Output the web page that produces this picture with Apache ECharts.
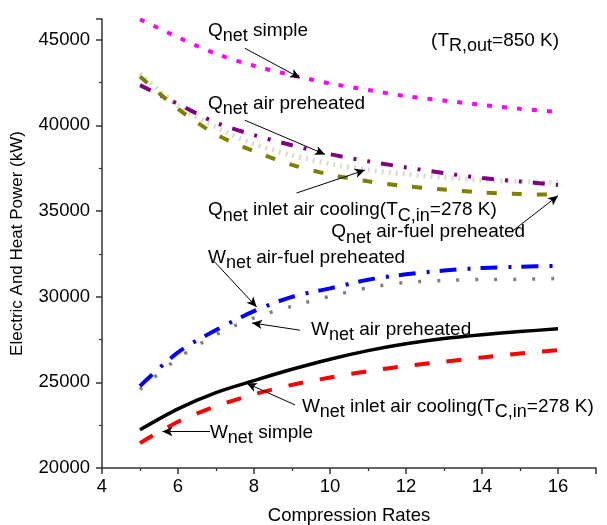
<!DOCTYPE html>
<html><head><meta charset="utf-8">
<script src="https://cdn.jsdelivr.net/npm/echarts@6/dist/echarts.min.js"></script>
<style>html,body{margin:0;padding:0;background:#fff}#c{width:607px;height:525px}</style>
</head><body><div id="c"></div>
<script>
const rates = [5, 6, 7, 8, 9, 10, 11, 12, 13, 14, 15, 16];
const qSimple   = [46180, 45130, 44170, 43470, 42920, 42440, 42060, 41700, 41440, 41190, 40960, 40780];
const qAir      = [42340, 41240, 40150, 39430, 38830, 38310, 37900, 37540, 37210, 36920, 36720, 36520];
const qInlet    = [43020, 41150, 39900, 38900, 38250, 37750, 37400, 37150, 36950, 36800, 36720, 36650];
const qAirFuel  = [42850, 40960, 39470, 38490, 37690, 37120, 36730, 36440, 36250, 36075, 35985, 35950];
const wAirFuel  = [24780, 26750, 28050, 29150, 29990, 30480, 30980, 31300, 31520, 31670, 31740, 31800];
const wAir      = [24590, 26400, 27780, 28760, 29440, 30020, 30520, 30830, 30940, 31000, 31010, 31060];
const wInlet    = [22230, 23450, 24400, 25100, 25760, 26350, 26850, 27250, 27560, 27780, 27960, 28120];
const wSimple   = [21450, 22700, 23600, 24300, 24850, 25280, 25650, 25950, 26200, 26450, 26680, 26880];

const xTicks = [4, 6, 8, 10, 12, 14, 16];
const yTicks = [20000, 25000, 30000, 35000, 40000, 45000];

// annotation texts (rich), anchored in data coordinates
const labels = [
  {text: '{m|Q}{s|net}{m| simple}', at: [6.79, 45483]},
  {text: '{m|(T}{s|R,out}{m|=850 K)}', at: [12.66, 44902]},
  {text: '{m|Q}{s|net}{m| air preheated}', at: [6.79, 41239]},
  {text: '{m|Q}{s|net}{m| inlet air cooling(T}{s|C,in}{m|=278 K)}', at: [6.79, 35018]},
  {text: '{m|Q}{s|net}{m| air-fuel preheated}', at: [10.03, 33739]},
  {text: '{m|W}{s|net}{m| air-fuel preheated}', at: [6.79, 32227]},
  {text: '{m|W}{s|net}{m| air preheated}', at: [9.5, 28041]},
  {text: '{m|W}{s|net}{m| inlet air cooling(T}{s|C,in}{m|=278 K)}', at: [9.26, 23564]},
  {text: '{m|W}{s|net}{m| simple}', at: [6.84, 22052]}
];
const arrows = [
  [[7.76, 44494], [9.21, 42760]],
  [[7.76, 40291], [9.87, 38300]],
  [[9.12, 36047], [10.92, 37384]],
  [[14.82, 33855], [16.0, 35890]],
  [[6.97, 32012], [8.07, 29395]],
  [[9.21, 28041], [7.95, 28465]],
  [[9.08, 23680], [7.81, 24942]],
  [[6.84, 22128], [5.59, 22128]]
];

const FONT = 'Liberation Sans, Arial, sans-serif';
function pairs(ys) { return rates.map((x, i) => [x, ys[i]]); }
function line(name, ys, color, type, width, extra) {
  return Object.assign({
    name, type: 'line', data: pairs(ys), showSymbol: false, symbol: 'none',
    smooth: 0.3, animation: false,
    lineStyle: {color, type, width, cap: 'butt'}
  }, extra || {});
}

const chart = echarts.init(document.getElementById('c'));
chart.setOption({
  animation: false,
  backgroundColor: '#fff',
  grid: {left: 102, right: 11, top: 19, bottom: 57, containLabel: false, outerBoundsMode: 'none'},
  xAxis: {
    type: 'value', min: 4, max: 17, interval: 2,
    name: 'Compression Rates', nameLocation: 'middle', nameGap: 38,
    nameTextStyle: {fontSize: 18.5, fontFamily: FONT, color: '#000'},
    axisLine: {lineStyle: {color: '#333', width: 1.5}},
    axisTick: {show: true, length: 6, lineStyle: {color: '#333', width: 1.5}},
    minorTick: {show: true, splitNumber: 2, length: 3, lineStyle: {color: '#333', width: 1.2}},
    splitLine: {show: false},
    axisLabel: {fontSize: 18.5, fontFamily: FONT, color: '#000', margin: 9, showMaxLabel: false,
      formatter: v => xTicks.includes(v) ? String(v) : ''}
  },
  yAxis: {
    type: 'value', min: 20000, max: 46200, interval: 5000,
    name: 'Electric And Heat Power (kW)', nameLocation: 'middle', nameGap: 76, nameRotate: 90,
    nameTextStyle: {fontSize: 17, fontFamily: FONT, color: '#000'},
    axisLine: {show: true, lineStyle: {color: '#333', width: 1.5}},
    axisTick: {show: true, length: 6, lineStyle: {color: '#333', width: 1.5}},
    minorTick: {show: true, splitNumber: 2, length: 3, lineStyle: {color: '#333', width: 1.2}},
    splitLine: {show: false},
    axisLabel: {fontSize: 18.5, fontFamily: FONT, color: '#000', margin: 12, showMaxLabel: false,
      formatter: v => yTicks.includes(v) ? String(v) : ''}
  },
  series: [
    line('Qnet simple', qSimple, '#ff00ff', [5, 10], 4),
    line('Qnet inlet air cooling', qInlet, '#dadacb', [2, 5], 5),
    line('Qnet air preheated', qAir, '#800080', [12, 11, 3, 11, 3, 11], 4),
    line('Qnet air-fuel preheated', qAirFuel, '#808000', [10, 15], 4),
    line('Wnet air preheated', wAir, '#808080', [3, 16], 3.5),
    line('Wnet air-fuel preheated', wAirFuel, '#0000ff', [17, 11, 3, 10], 4),
    line('Wnet inlet air cooling', wInlet, '#000000', 'solid', 3.5),
    line('Wnet simple', wSimple, '#ff0000', [15, 17], 4, {
      markLine: {
        silent: true, animation: false,
        symbol: ['none', 'arrow'], symbolSize: [7, 10],
        label: {show: false},
        lineStyle: {color: '#000', width: 1, type: 'solid'},
        emphasis: {disabled: true},
        data: arrows.map(a => [{coord: a[0]}, {coord: a[1]}])
      }
    })
  ]
});

const rich = {
  m: {fontSize: 19, fontFamily: FONT, lineHeight: 20, verticalAlign: 'top', fill: '#000', color: '#000'},
  s: {fontSize: 18, fontFamily: FONT, lineHeight: 20, padding: [6, 0, 0, 0], verticalAlign: 'top', fill: '#000', color: '#000'}
};
const graphics = labels.map(l => {
  const p = chart.convertToPixel({gridIndex: 0}, l.at);
  return {
    type: 'text', x: p[0], y: p[1] - 10, silent: true,
    style: {text: l.text, rich, fill: '#000', font: '19px ' + FONT, verticalAlign: 'top', align: 'left'}
  };
});
chart.setOption({graphic: graphics});
</script></body></html>
